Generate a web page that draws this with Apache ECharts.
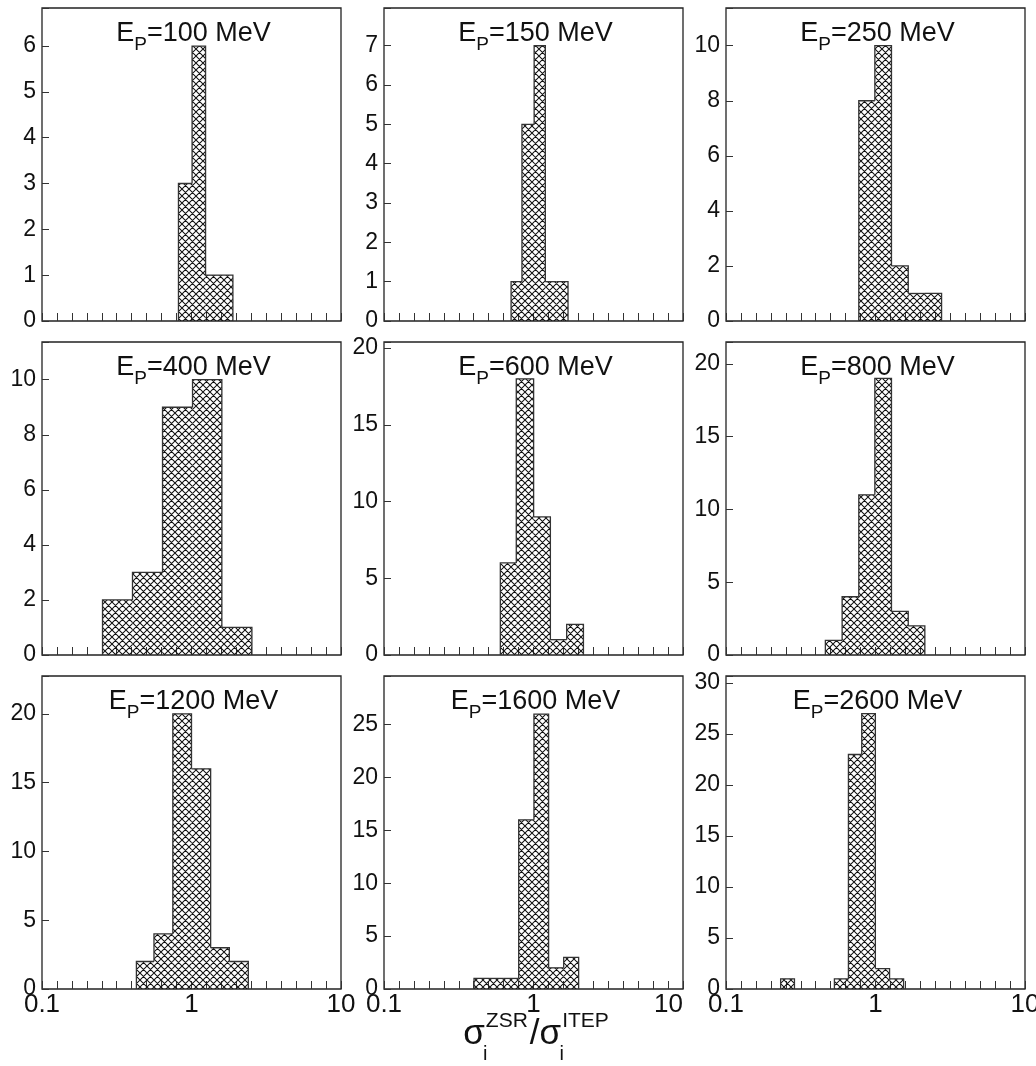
<!DOCTYPE html>
<html>
<head>
<meta charset="utf-8">
<script src="https://cdn.jsdelivr.net/npm/echarts@6/dist/echarts.min.js"></script>
<style>
html, body { margin: 0; padding: 0; background: #fff; }
#chart { width: 1036px; height: 1066px; }
</style>
</head>
<body>
<div id="chart"></div>
<script>
// Proton beam energy of each panel, MeV
const energies = [100, 150, 250, 400, 600, 800, 1200, 1600, 2600];

// Bin edges of sigma_ZSR / sigma_ITEP (log-spaced bins) and entries per bin
const edges100 = [0.818, 1.009, 1.242, 1.531, 1.892];
const counts100 = [3, 6, 1, 1];

const edges150 = [0.708, 0.837, 1.010, 1.200, 1.429, 1.702];
const counts150 = [1, 5, 7, 1, 1];

const edges250 = [0.773, 0.990, 1.279, 1.656, 2.138, 2.767];
const counts250 = [8, 10, 2, 1, 1];

const edges400 = [0.254, 0.403, 0.640, 1.016, 1.596, 2.535];
const counts400 = [2, 3, 9, 10, 1];

const edges600 = [0.600, 0.767, 1.002, 1.297, 1.667, 2.158];
const counts600 = [6, 18, 9, 1, 2];

const edges800 = [0.462, 0.598, 0.773, 0.990, 1.279, 1.656, 2.138];
const counts800 = [1, 4, 11, 19, 3, 2];

const edges1200 = [0.428, 0.561, 0.750, 1.000, 1.343, 1.791, 2.399];
const counts1200 = [2, 4, 20, 16, 3, 2];

const edges1600 = [0.400, 0.504, 0.634, 0.796, 1.007, 1.262, 1.592, 2.004];
const counts1600 = [1, 1, 1, 16, 26, 2, 3];

const edges2600 = [0.232, 0.287, 0.531, 0.659, 0.809, 0.998, 1.242, 1.542];
const counts2600 = [1, 0, 1, 23, 27, 2, 1];

// Vertical axis ranges and tick steps
const yMax = [6.83, 7.96, 11.37, 11.37, 20.4, 21.5, 22.75, 29.6, 30.7];
const yStep = [1, 1, 2, 2, 5, 5, 5, 5, 5];

// Horizontal axis: decade labels
const xMin = 0.1, xMax = 10;
const xTickLabels = ['0.1', '1', '10'];

const histEdges = [edges100, edges150, edges250, edges400, edges600, edges800, edges1200, edges1600, edges2600];
const histCounts = [counts100, counts150, counts250, counts400, counts600, counts800, counts1200, counts1600, counts2600];

// Panel layout (pixels)
const colLeft = [42, 384, 726];
const rowTop = [8, 342, 676];
const panelW = 299, panelH = 313;
const FONT = 'Liberation Sans, Arial, Helvetica, sans-serif';
const INK = '#111';

// Cross-hatch fill tile
function makeHatch() {
  const s = 7;
  const c = document.createElement('canvas');
  c.width = s; c.height = s;
  const g = c.getContext('2d');
  g.strokeStyle = '#111';
  g.lineWidth = 1.05;
  g.beginPath();
  for (const o of [-s, 0, s]) {
    g.moveTo(o, 0); g.lineTo(o + s, s);
    g.moveTo(o + s, 0); g.lineTo(o, s);
  }
  g.stroke();
  return c;
}
const hatch = { image: makeHatch(), repeat: 'repeat' };

// One item per bin: [low edge, high edge, count, previous count, next count]
function binItems(edges, counts) {
  return counts.map((n, k) => [
    edges[k], edges[k + 1], n,
    k > 0 ? counts[k - 1] : 0,
    k < counts.length - 1 ? counts[k + 1] : 0
  ]);
}

// Filled bin plus its share of the step outline
function renderBin(params, api) {
  const lo = api.value(0), hi = api.value(1), n = api.value(2);
  const prev = api.value(3), next = api.value(4);
  if (!(n > 0)) return null;
  const base = api.coord([lo, 0]);
  const top = api.coord([hi, n]);
  const yPrev = api.coord([lo, Math.min(prev, n)])[1];
  const yNext = api.coord([hi, Math.min(next, n)])[1];
  const x0 = base[0], x1 = top[0], y0 = base[1], y1 = top[1];
  return {
    type: 'group',
    children: [
      { type: 'rect', shape: { x: x0, y: y1, width: x1 - x0, height: y0 - y1 },
        style: { fill: hatch, stroke: null } },
      { type: 'polyline', shape: { points: [[x0, yPrev], [x0, y1], [x1, y1], [x1, yNext]] },
        style: { fill: null, stroke: '#333', lineWidth: 1.3 } }
    ]
  };
}

function isDecade(v) {
  const l = Math.log10(v);
  return Math.abs(l - Math.round(l)) < 1e-6;
}

const grids = [], xAxes = [], yAxes = [], series = [], graphics = [];

energies.forEach((e, i) => {
  const col = i % 3, row = Math.floor(i / 3);
  const left = colLeft[col], top = rowTop[row];
  grids.push({
    left: left, top: top, width: panelW, height: panelH,
    show: true, borderColor: '#222', borderWidth: 1.3, backgroundColor: '#fff',
    containLabel: false, outerBoundsMode: 'none'
  });
  xAxes.push({
    type: 'log', logBase: 10, gridIndex: i, min: xMin, max: xMax, interval: 0.1,
    axisLine: { show: false },
    axisTick: { show: true, inside: true, length: 8, lineStyle: { color: '#333', width: 1 } },
    splitLine: { show: false },
    axisLabel: {
      show: row === 2, fontSize: 26, fontFamily: FONT, color: INK, margin: 3,
      alignMaxLabel: i === 7 ? 'right' : null,
      formatter: v => {
        if (!isDecade(v)) return '';
        return xTickLabels[Math.round(Math.log10(v)) + 1];
      }
    }
  });
  const step = yStep[i];
  yAxes.push({
    type: 'value', gridIndex: i, min: 0, max: yMax[i], interval: step,
    axisLine: { show: false },
    axisTick: { show: true, inside: true, length: 7, lineStyle: { color: '#333', width: 1 } },
    splitLine: { show: false },
    axisLabel: {
      fontSize: 23, fontFamily: FONT, color: INK, margin: 6,
      formatter: v => (Math.abs(v / step - Math.round(v / step)) < 1e-6 ? String(Math.round(v)) : '')
    }
  });
  series.push({
    type: 'custom', xAxisIndex: i, yAxisIndex: i, clip: true,
    renderItem: renderBin,
    encode: { x: [0, 1], y: 2 },
    data: binItems(histEdges[i], histCounts[i]),
    silent: true
  });
  graphics.push({
    type: 'text', x: left + panelW / 2 + 2, y: top + 26, z: 100,
    style: {
      text: '{m|E}{s|P}{m|=' + e + ' MeV}',
      align: 'center', verticalAlign: 'middle',
      rich: {
        m: { fontSize: 27, fontFamily: FONT, fill: INK, verticalAlign: 'middle' },
        s: { fontSize: 19, fontFamily: FONT, fill: INK, verticalAlign: 'middle', padding: [22, 0, 0, 0] }
      }
    }
  });
});

// Common horizontal axis title
graphics.push({
  type: 'text', x: 537, y: 1034, z: 100,
  style: {
    text: '{g|σ}{i|i}{p|ZSR}{g|/σ}{i|i}{p|ITEP}',
    align: 'center', verticalAlign: 'middle',
    rich: {
      g: { fontSize: 35, fontFamily: FONT, fill: INK, verticalAlign: 'middle' },
      i: { fontSize: 20, fontFamily: FONT, fill: INK, verticalAlign: 'middle', width: 1, padding: [40, 0, 0, 0] },
      p: { fontSize: 21, fontFamily: FONT, fill: INK, verticalAlign: 'middle', padding: [0, 2, 26, 0] }
    }
  }
});

const chart = echarts.init(document.getElementById('chart'), null, { renderer: 'canvas' });
chart.setOption({
  animation: false,
  backgroundColor: '#fff',
  grid: grids,
  xAxis: xAxes,
  yAxis: yAxes,
  series: series,
  graphic: graphics
});
</script>
</body>
</html>
